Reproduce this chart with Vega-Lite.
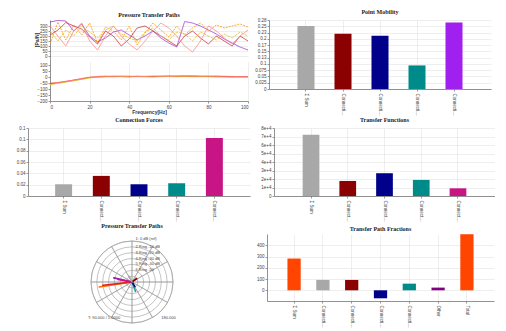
{
  "$schema": "https://vega.github.io/schema/vega-lite/v6.json",
  "background": "white",
  "padding": {"left": 13, "top": 9, "right": 0, "bottom": 0},
  "spacing": 1,
  "resolve": {"scale": {"color": "independent", "strokeDash": "independent"}},
  "config": {
    "view": {"stroke": null},
    "font": "Liberation Sans",
    "axis": {"labelFontSize": 4.5, "labelColor": "#444", "tickSize": 2, "tickColor": "#999", "labelPadding": 1, "domainColor": "#777", "domainWidth": 0.8, "gridColor": "#e2e2e2", "gridWidth": 0.6, "titleFontSize": 5, "titleColor": "#333", "labelOverlap": false},
    "title": {"font": "Liberation Serif", "fontSize": 6, "fontWeight": "bold", "color": "#222", "offset": 2}
  },
  "datasets": {
    "lines": [
      {"f":0,"P1":340,"P2":120,"P3":210,"P4":250,"P5":300,"Q2":-60,"Q3":-55,"Q4":-65,"Q5":-50},
      {"f":4,"P1":355,"P2":340,"P3":260,"P4":150,"P5":200,"Q2":-50,"Q3":-48,"Q4":-52,"Q5":-45},
      {"f":8,"P1":350,"P2":160,"P3":335,"P4":260,"P5":100,"Q2":-40,"Q3":-38,"Q4":-42,"Q5":-35},
      {"f":12,"P1":250,"P2":310,"P3":300,"P4":200,"P5":250,"Q2":-30,"Q3":-25,"Q4":-30,"Q5":-28},
      {"f":16,"P1":320,"P2":210,"P3":270,"P4":300,"P5":330,"Q2":-18,"Q3":-15,"Q4":-20,"Q5":-12},
      {"f":20,"P1":200,"P2":330,"P3":190,"P4":240,"P5":150,"Q2":-5,"Q3":-3,"Q4":-8,"Q5":-2},
      {"f":24,"P1":140,"P2":130,"P3":120,"P4":180,"P5":60,"Q2":2,"Q3":0,"Q4":-2,"Q5":5},
      {"f":28,"P1":180,"P2":290,"P3":250,"P4":260,"P5":200,"Q2":5,"Q3":3,"Q4":2,"Q5":8},
      {"f":32,"P1":240,"P2":250,"P3":200,"P4":300,"P5":300,"Q2":4,"Q3":6,"Q4":0,"Q5":5},
      {"f":36,"P1":260,"P2":160,"P3":100,"P4":220,"P5":200,"Q2":6,"Q3":4,"Q4":3,"Q5":7},
      {"f":40,"P1":210,"P2":300,"P3":170,"P4":180,"P5":120,"Q2":3,"Q3":2,"Q4":2,"Q5":8},
      {"f":44,"P1":160,"P2":110,"P3":280,"P4":150,"P5":60,"Q2":5,"Q3":6,"Q4":1,"Q5":4},
      {"f":48,"P1":200,"P2":230,"P3":300,"P4":240,"P5":150,"Q2":2,"Q3":4,"Q4":3,"Q5":6},
      {"f":52,"P1":250,"P2":330,"P3":250,"P4":280,"P5":250,"Q2":4,"Q3":3,"Q4":0,"Q5":9},
      {"f":56,"P1":180,"P2":260,"P3":200,"P4":200,"P5":330,"Q2":6,"Q3":5,"Q4":2,"Q5":7},
      {"f":60,"P1":130,"P2":190,"P3":150,"P4":160,"P5":280,"Q2":5,"Q3":8,"Q4":4,"Q5":5},
      {"f":64,"P1":90,"P2":300,"P3":100,"P4":240,"P5":200,"Q2":3,"Q3":6,"Q4":2,"Q5":10},
      {"f":68,"P1":345,"P2":210,"P3":200,"P4":220,"P5":100,"Q2":8,"Q3":4,"Q4":3,"Q5":12},
      {"f":72,"P1":330,"P2":280,"P3":250,"P4":150,"P5":40,"Q2":6,"Q3":7,"Q4":1,"Q5":9},
      {"f":76,"P1":300,"P2":330,"P3":180,"P4":240,"P5":150,"Q2":5,"Q3":5,"Q4":2,"Q5":8},
      {"f":80,"P1":260,"P2":250,"P3":120,"P4":200,"P5":300,"Q2":4,"Q3":3,"Q4":3,"Q5":10},
      {"f":84,"P1":220,"P2":310,"P3":200,"P4":160,"P5":250,"Q2":2,"Q3":6,"Q4":0,"Q5":7},
      {"f":88,"P1":170,"P2":280,"P3":150,"P4":220,"P5":180,"Q2":5,"Q3":4,"Q4":-2,"Q5":6},
      {"f":92,"P1":130,"P2":300,"P3":100,"P4":180,"P5":120,"Q2":3,"Q3":2,"Q4":-4,"Q5":5},
      {"f":96,"P1":90,"P2":320,"P3":200,"P4":240,"P5":200,"Q2":2,"Q3":3,"Q4":-3,"Q5":3},
      {"f":100,"P1":60,"P2":290,"P3":150,"P4":200,"P5":260,"Q2":4,"Q3":2,"Q4":-5,"Q5":4}
    ]
  },
  "vconcat": [
    {
      "spacing": 0,
      "resolve": {"scale": {"color": "independent", "strokeDash": "independent"}},
      "hconcat": [
        {"width": 21, "height": 1, "view": {"fill": "white"}, "data": {"values": [{}]}, "mark": {"type": "text", "text": ""}},
        {
          "width": 198, "height": 81,
          "title": "Pressure Transfer Paths",
          "data": {"name": "lines"},
          "layer": [
            {
              "transform": [{"fold": ["P1","P2","P3","P4","P5"], "as": ["s","m"]}],
              "mark": {"type": "line", "strokeWidth": 0.8, "clip": true},
              "encoding": {
                "x": {"field": "f", "type": "quantitative", "scale": {"domain": [0,100], "nice": false}, "axis": {"values": [0,20,40,60,80,100], "title": "Frequency[Hz]", "titleFontWeight": "bold", "titlePadding": 1, "minExtent": 7, "maxExtent": 7}},
                "y": {"field": "m", "type": "quantitative", "scale": {"domain": [-30,360], "nice": false, "range": [39, 0]}, "axis": {"orient": "left", "values": [0,50,100,150,200,250,300], "title": "[Pa/N]", "titleFontWeight": "bold", "titlePadding": 2, "minExtent": 9, "maxExtent": 9}},
                "color": {"field": "s", "type": "nominal", "scale": {"domain": ["P1","P2","P3","P4","P5"], "range": ["#9933cc","#ff9900","#cc1f2f","#e6c229","#ff7f7f"]}, "legend": null},
                "strokeDash": {"field": "s", "type": "nominal", "scale": {"domain": ["P1","P2","P3","P4","P5"], "range": [[1,0],[2,1],[1,0],[3,1],[1,0]]}, "legend": null}
              }
            },
            {
              "transform": [{"fold": ["Q2","Q3","Q4","Q5"], "as": ["s","p"]}],
              "mark": {"type": "line", "strokeWidth": 0.8, "clip": true},
              "encoding": {
                "x": {"field": "f", "type": "quantitative", "scale": {"domain": [0,100], "nice": false}, "axis": {"values": [0,20,40,60,80,100], "title": "Frequency[Hz]", "titleFontWeight": "bold", "titlePadding": 1, "minExtent": 7, "maxExtent": 7}},
                "y": {"field": "p", "type": "quantitative", "scale": {"domain": [-200,150], "nice": false, "range": [81, 39]}, "axis": {"orient": "left", "values": [-200,-150,-100,-50,0,50,100], "title": null, "minExtent": 9, "maxExtent": 9}},
                "color": {"field": "s", "type": "nominal", "scale": {"domain": ["Q2","Q3","Q4","Q5"], "range": ["#ff9900","#cc1f2f","#e6c229","#ff7f7f"]}, "legend": null}
              }
            }
          ],
          "resolve": {"scale": {"y": "independent", "color": "independent"}, "axis": {"y": "independent"}}
        },
        {"width": 5, "height": 1, "view": {"fill": "white"}, "data": {"values": [{}]}, "mark": {"type": "text", "text": ""}},
        {
          "width": 222, "height": 69,
          "title": "Point Mobility",
          "data": {"values": [
            {"c": "Σ      Sum", "v": 0.251},
            {"c": "Connection 1", "v": 0.22},
            {"c": "Connection 2", "v": 0.212},
            {"c": "Connection 3", "v": 0.094},
            {"c": "Connection 4", "v": 0.265}
          ]},
          "mark": {"type": "bar"},
          "encoding": {
            "x": {"field": "c", "type": "nominal", "sort": null, "scale": {"paddingInner": 0.54, "paddingOuter": 0.77}, "axis": {"labelAngle": 90, "grid": true, "bandPosition": 0.5, "title": null, "labelLimit": 24, "labelPadding": 2, "minExtent": 27, "maxExtent": 27}},
            "y": {"field": "v", "type": "quantitative", "scale": {"domain": [0,0.275], "nice": false}, "axis": {"values": [0,0.025,0.05,0.075,0.1,0.125,0.15,0.175,0.2,0.225,0.25,0.275], "format": "~g", "title": null, "minExtent": 14, "maxExtent": 14}},
            "color": {"field": "c", "type": "nominal", "scale": {"domain": ["Σ      Sum","Connection 1","Connection 2","Connection 3","Connection 4"], "range": ["#a8a8a8","#8b0000","#00008b","#008b8b","#a020f0"]}, "legend": null}
          }
        }
      ]
    },
    {
      "spacing": 0,
      "resolve": {"scale": {"color": "independent"}},
      "hconcat": [
        {"width": 1, "height": 1, "view": {"fill": "white"}, "data": {"values": [{}]}, "mark": {"type": "text", "text": ""}},
        {
          "width": 222, "height": 68,
          "title": "Connection Forces",
          "data": {"values": [
            {"c": "Σ      Sum", "v": 0.0207},
            {"c": "Connection 1", "v": 0.0355},
            {"c": "Connection 2", "v": 0.0207},
            {"c": "Connection 3", "v": 0.0225},
            {"c": "Connection 4", "v": 0.1024}
          ]},
          "mark": {"type": "bar"},
          "encoding": {
            "x": {"field": "c", "type": "nominal", "sort": null, "scale": {"paddingInner": 0.55, "paddingOuter": 0.72}, "axis": {"labelAngle": 90, "grid": true, "bandPosition": 0.5, "title": null, "labelLimit": 22, "labelPadding": 2, "minExtent": 25, "maxExtent": 25}},
            "y": {"field": "v", "type": "quantitative", "scale": {"domain": [0,0.12], "nice": false}, "axis": {"values": [0,0.02,0.04,0.06,0.08,0.1,0.12], "format": "~g", "title": null, "minExtent": 14, "maxExtent": 14}},
            "color": {"field": "c", "type": "nominal", "scale": {"domain": ["Σ      Sum","Connection 1","Connection 2","Connection 3","Connection 4"], "range": ["#a8a8a8","#8b0000","#00008b","#008b8b","#c71585"]}, "legend": null}
          }
        },
        {"width": 8, "height": 1, "view": {"fill": "white"}, "data": {"values": [{}]}, "mark": {"type": "text", "text": ""}},
        {
          "width": 221, "height": 68,
          "title": "Transfer Functions",
          "data": {"values": [
            {"c": "Σ      Sum", "v": 72000},
            {"c": "Connection 1", "v": 17700},
            {"c": "Connection 2", "v": 26800},
            {"c": "Connection 3", "v": 18900},
            {"c": "Connection 4", "v": 9050}
          ]},
          "mark": {"type": "bar"},
          "encoding": {
            "x": {"field": "c", "type": "nominal", "sort": null, "scale": {"paddingInner": 0.545, "paddingOuter": 0.78}, "axis": {"labelAngle": 90, "grid": true, "bandPosition": 0.5, "title": null, "labelLimit": 22, "labelPadding": 2, "minExtent": 25, "maxExtent": 25}},
            "y": {"field": "v", "type": "quantitative", "scale": {"domain": [0,80000], "nice": false}, "axis": {"values": [0,10000,20000,30000,40000,50000,60000,70000,80000], "format": ",", "title": null, "minExtent": 16, "maxExtent": 16}},
            "color": {"field": "c", "type": "nominal", "scale": {"domain": ["Σ      Sum","Connection 1","Connection 2","Connection 3","Connection 4"], "range": ["#a8a8a8","#8b0000","#00008b","#008b8b","#c71585"]}, "legend": null}
          }
        }
      ]
    },
    {
      "spacing": 0,
      "resolve": {"scale": {"color": "independent", "x": "independent", "y": "independent"}},
      "hconcat": [
        {
          "width": 238, "height": 96,
          "view": {"fill": "white"},
          "title": {"text": "Pressure Transfer Paths", "offset": 5},
          "layer": [
            {
              "data": {"values": [{"r": 1},{"r": 2},{"r": 3},{"r": 4},{"r": 5},{"r": 6},{"r": 7}]},
              "mark": {"type": "arc", "theta": 0, "theta2": 6.2832, "filled": false, "stroke": "#9a9a9a", "strokeWidth": 0.6},
              "encoding": {"radius": {"field": "r", "type": "quantitative", "stack": null, "scale": {"type": "linear", "domain": [0,7], "range": [0,41], "zero": true}}}
            },
            {
              "data": {"values": [{"k":1,"v":1},{"k":2,"v":1},{"k":3,"v":1},{"k":4,"v":1},{"k":5,"v":1},{"k":6,"v":1},{"k":7,"v":1},{"k":8,"v":1},{"k":9,"v":1},{"k":10,"v":1},{"k":11,"v":1},{"k":12,"v":1}]},
              "mark": {"type": "arc", "radius": 41, "filled": false, "stroke": "#9a9a9a", "strokeWidth": 0.6},
              "encoding": {"theta": {"field": "v", "type": "quantitative", "stack": true}, "detail": {"field": "k", "type": "nominal"}}
            },
            {
              "data": {"values": [
                {"p": "Sum", "re": -5.6, "im": -0.85},
                {"p": "Connection 1", "re": -5.0, "im": -0.55},
                {"p": "Connection 2", "re": -3.1, "im": 0.7},
                {"p": "Connection 3", "re": 0.6, "im": -1.6},
                {"p": "Connection 4", "re": -2.4, "im": 0.45},
                {"p": "Connection 5", "re": 0.8, "im": 0.6},
                {"p": "Connection 6", "re": 0.5, "im": -0.8},
                {"p": "Other", "re": -0.5, "im": 1.0}
              ]},
              "mark": {"type": "rule", "strokeWidth": 1.6, "strokeCap": "round"},
              "encoding": {
                "x": {"field": "re", "type": "quantitative", "scale": {"domain": [-20.32,20.32], "nice": false, "zero": false}, "axis": null},
                "x2": {"datum": 0},
                "y": {"field": "im", "type": "quantitative", "scale": {"domain": [-8.196,8.196], "nice": false, "zero": false}, "axis": null},
                "y2": {"datum": 0},
                "color": {"field": "p", "type": "nominal", "scale": {"domain": ["Sum","Connection 1","Connection 2","Connection 3","Connection 4","Connection 5","Connection 6","Other"], "range": ["#ff6a00","#e02020","#9020b0","#20a0a0","#c71585","#8b0000","#000080","#a8a8a8"]}, "legend": null}
              }
            },
            {
              "data": {"values": [
                {"t": "1: 0 dB (ref)", "re": 0.6, "im": 7.4},
                {"t": "2  Ring -10 dB", "re": 0.6, "im": 6.0},
                {"t": "3  Ring -20 dB", "re": 0.6, "im": 5.0},
                {"t": "4  Ring -30 dB", "re": 0.6, "im": 4.0},
                {"t": "5  Ring -40 dB", "re": 0.6, "im": 3.0},
                {"t": "6  Ring -50", "re": 0.6, "im": 2.0},
                {"t": "T: 90.000 / 1.0000", "re": -7.5, "im": -6.1},
                {"t": "180.000", "re": 5.0, "im": -6.1}
              ]},
              "mark": {"type": "text", "fontSize": 4, "align": "left", "color": "#444"},
              "encoding": {
                "x": {"field": "re", "type": "quantitative"},
                "y": {"field": "im", "type": "quantitative"},
                "text": {"field": "t"}
              }
            }
          ]
        },
        {"width": 5, "height": 1, "view": {"fill": "white"}, "data": {"values": [{}]}, "mark": {"type": "text", "text": ""}},
        {
          "width": 227, "height": 67,
          "title": {"text": "Transfer Path Fractions", "offset": 2},
          "data": {"values": [
            {"c": "Σ      Sum", "v": 282},
            {"c": "Connection 1 X", "v": 92},
            {"c": "Connection 1 Y", "v": 92},
            {"c": "Connection 2 X", "v": -71},
            {"c": "Connection 2 Y", "v": 59},
            {"c": "Other", "v": 24},
            {"c": "Total", "v": 498}
          ]},
          "mark": {"type": "bar"},
          "encoding": {
            "x": {"field": "c", "type": "nominal", "sort": null, "scale": {"paddingInner": 0.54, "paddingOuter": 0.71}, "axis": {"labelAngle": 90, "grid": true, "bandPosition": 0.5, "title": null, "labelLimit": 24, "labelPadding": 2, "minExtent": 27, "maxExtent": 27}},
            "y": {"field": "v", "type": "quantitative", "scale": {"domain": [-95,500], "nice": false}, "axis": {"values": [0,100,200,300,400], "title": null, "minExtent": 10, "maxExtent": 10}},
            "color": {"field": "c", "type": "nominal", "scale": {"domain": ["Σ      Sum","Connection 1 X","Connection 1 Y","Connection 2 X","Connection 2 Y","Other","Total"], "range": ["#ff4500","#a8a8a8","#8b0000","#00008b","#008b8b","#800080","#ff4500"]}, "legend": null}
          }
        }
      ]
    }
  ]
}
